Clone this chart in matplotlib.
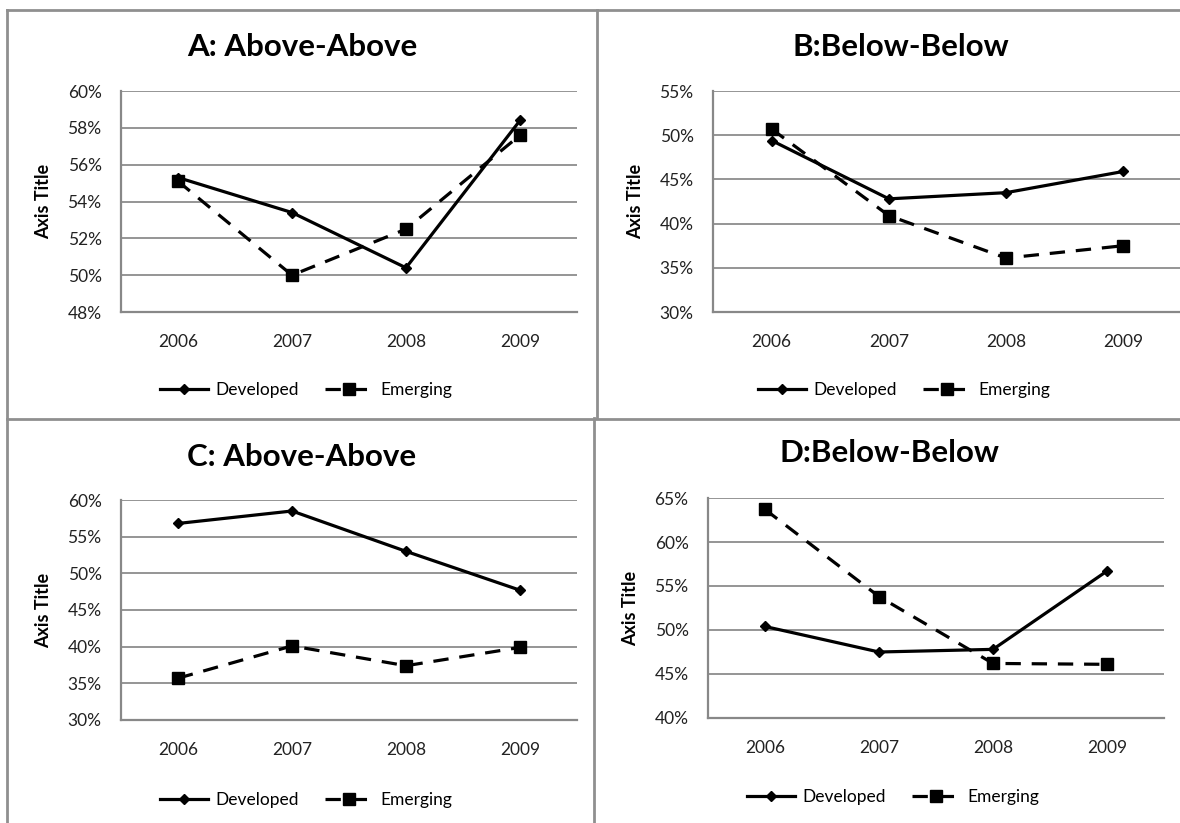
import matplotlib
matplotlib.use("Agg")
import matplotlib.pyplot as plt
from matplotlib.lines import Line2D
from matplotlib.ticker import FuncFormatter

plt.rcParams["font.family"] = ["Lato", "DejaVu Sans"]

W, H = 1180, 823
DPI = 100

years = ["2006", "2007", "2008", "2009"]

# Panel A: Above-Above
a_developed = [55.3, 53.4, 50.4, 58.4]
a_emerging = [55.1, 50.0, 52.5, 57.6]
# Panel B: Below-Below
b_developed = [49.4, 42.8, 43.5, 45.9]
b_emerging = [50.7, 40.9, 36.1, 37.5]
# Panel C: Above-Above
c_developed = [56.8, 58.5, 53.0, 47.7]
c_emerging = [35.7, 40.1, 37.4, 39.9]
# Panel D: Below-Below
d_developed = [50.4, 47.5, 47.8, 56.7]
d_emerging = [63.7, 53.8, 46.2, 46.1]

titles = ["A: Above-Above", "B:Below-Below", "C: Above-Above", "D:Below-Below"]
y_ranges = [(48, 60, 2), (30, 55, 5), (30, 60, 5), (40, 65, 5)]

fig = plt.figure(figsize=(W / DPI, H / DPI), dpi=DPI)
fig.patch.set_facecolor("white")


def fx(px):
    return px / W


def fy(py):
    return 1 - py / H


def add_axes_px(left, top, right, bottom):
    return fig.add_axes([fx(left), fy(bottom), (right - left) / W, (bottom - top) / H])


# panel frames
frame_color = "#8f8f8f"
frame_lw = 2.0
for xs, ys in [
    ([7, 7], [10, H]),
    ([7, W], [10, 10]),
    ([597, 597], [10, 418]),
    ([594, 594], [418, H]),
    ([7, W], [418.5, 418.5]),
]:
    fig.add_artist(Line2D([fx(x) for x in xs], [fy(y) for y in ys],
                          color=frame_color, lw=frame_lw, transform=fig.transFigure))

panels = [
    # axes box (left, top, right, bottom), title centre, legend centre, y-label x
    dict(box=(121, 91, 577, 312), title=(302, 47), legend=(306, 390), ylab=44,
         dev=a_developed, emg=a_emerging),
    dict(box=(713, 91, 1182, 312), title=(901, 47), legend=(904, 390), ylab=636,
         dev=b_developed, emg=b_emerging),
    dict(box=(121, 500, 577, 720), title=(302, 457), legend=(306, 800), ylab=44,
         dev=c_developed, emg=c_emerging),
    dict(box=(708, 498, 1164, 718), title=(890, 453), legend=(893, 797), ylab=631,
         dev=d_developed, emg=d_emerging),
]

grid_color = "#8c8c8c"
x = list(range(len(years)))

for p, title, (ymin, ymax, step) in zip(panels, titles, y_ranges):
    l, t, r, b = p["box"]
    ax = add_axes_px(l, t, r, b)
    ax.set_facecolor("none")

    dev_line, = ax.plot(x, p["dev"], color="black", lw=2.3, marker="D",
                        markersize=5, markerfacecolor="black",
                        markeredgecolor="black", solid_joinstyle="miter",
                        label="Developed", zorder=3, clip_on=False)
    emg_line, = ax.plot(x, p["emg"], color="black", lw=2.3, marker="s",
                        markersize=8.5, dashes=(4.8, 3.4),
                        label="Emerging", zorder=3, clip_on=False)

    ax.set_xlim(-0.5, len(years) - 0.5)
    ax.set_ylim(ymin, ymax)
    ax.set_xticks(x)
    ax.set_xticklabels(years)
    ax.set_yticks(list(range(ymin, ymax + 1, step)))
    ax.yaxis.set_major_formatter(FuncFormatter(lambda v, _: f"{v:.0f}%"))
    ax.tick_params(axis="both", length=0, labelsize=12.5, colors="#222222")
    ax.tick_params(axis="y", pad=14)
    ax.tick_params(axis="x", pad=16)

    ax.grid(axis="y", color=grid_color, lw=1.3)
    ax.set_axisbelow(True)
    for side in ("top", "right"):
        ax.spines[side].set_visible(False)
    for side in ("left", "bottom"):
        ax.spines[side].set_color("#888888")
        ax.spines[side].set_linewidth(1.6)

    ax.set_ylabel("Axis Title", fontsize=13, fontweight="bold", va="center")
    ax.yaxis.set_label_coords((p["ylab"] - l) / (r - l), 0.5)

    fig.text(fx(p["title"][0]), fy(p["title"][1]), title, ha="center",
             va="center", fontsize=22.5, fontweight="bold", color="black")

    fig.legend(handles=[dev_line, emg_line], loc="center",
               bbox_to_anchor=(fx(p["legend"][0]), fy(p["legend"][1])),
               ncol=2, frameon=False, fontsize=12.5, handlelength=2.8,
               handletextpad=0.4, columnspacing=1.5, numpoints=1,
               borderaxespad=0, borderpad=0)

fig.savefig("out.png", dpi=DPI, facecolor="white")
